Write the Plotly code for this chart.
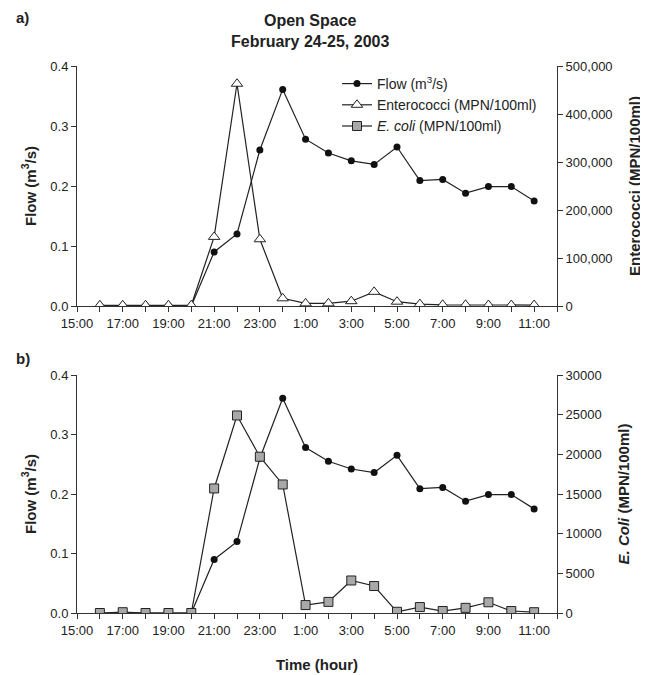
import plotly.graph_objects as go
from plotly.subplots import make_subplots

# ---- data ----
times = ["16:00", "17:00", "18:00", "19:00", "20:00", "21:00", "22:00", "23:00", "0:00", "1:00",
         "2:00", "3:00", "4:00", "5:00", "6:00", "7:00", "8:00", "9:00", "10:00", "11:00"]
flow = [0.0, 0.0, 0.0, 0.0, 0.0, 0.090, 0.120, 0.260, 0.361, 0.278,
        0.255, 0.242, 0.236, 0.265, 0.209, 0.211, 0.188, 0.199, 0.199, 0.175]
enterococci = [1500, 1500, 1500, 1500, 1500, 144000, 463000, 139000, 16000, 5500,
               5500, 10000, 29500, 9000, 4000, 2500, 2500, 2000, 2000, 2000]
ecoli = [0, 100, 0, 0, 0, 15700, 24900, 19700, 16200, 1000,
         1400, 4100, 3400, 150, 750, 250, 650, 1350, 250, 100]
tick_labels = ["15:00", "", "17:00", "", "19:00", "", "21:00", "", "23:00", "", "1:00", "",
               "3:00", "", "5:00", "", "7:00", "", "9:00", "", "11:00", ""]

# hour offsets from 15:00 (axis origin); data start at 16:00
xpos = list(range(1, len(times) + 1))
tickvals = list(range(0, len(tick_labels)))

FONT = "Liberation Sans, Arial, sans-serif"
LINE = "#222222"
AX = "#333333"
TXT = "#222222"

# figure geometry (page body adds an 8px offset)
W, H = 640, 667
L, R, T, B = 69, 91, 58, 62
PW, PH = W - L - R, H - T - B


def px(xf):
    return (xf - L) / PW


def py(yf):
    return (H - B - yf) / PH


fig = make_subplots(rows=2, cols=1, specs=[[{"secondary_y": True}], [{"secondary_y": True}]],
                    vertical_spacing=0.12)

flow_style = dict(mode="lines+markers", line=dict(color=LINE, width=1.2),
                  marker=dict(symbol="circle", size=7, color="#111111"))
ent_style = dict(mode="lines+markers", line=dict(color=LINE, width=1.2),
                 marker=dict(symbol="triangle-up", size=10, color="white",
                             line=dict(color=LINE, width=1)))
eco_style = dict(mode="lines+markers", line=dict(color=LINE, width=1.2),
                 marker=dict(symbol="square", size=9, color="#A8A8A8",
                             line=dict(color=LINE, width=1)))

fig.add_trace(go.Scatter(x=xpos, y=flow, name="Flow (m<sup>3</sup>/s)", customdata=times,
                         legendrank=1, **flow_style), row=1, col=1, secondary_y=False)
fig.add_trace(go.Scatter(x=xpos, y=enterococci, name="Enterococci (MPN/100ml)", customdata=times,
                         legendrank=2, **ent_style), row=1, col=1, secondary_y=True)
fig.add_trace(go.Scatter(x=xpos, y=flow, name="Flow", showlegend=False, customdata=times,
                         **flow_style), row=2, col=1, secondary_y=False)
fig.add_trace(go.Scatter(x=xpos, y=ecoli, name="<i>E. coli</i> (MPN/100ml)", customdata=times,
                         legendrank=3, **eco_style), row=2, col=1, secondary_y=True)

tickfont = dict(family=FONT, size=13, color=TXT)
titlefont = dict(family=FONT, size=15, color=TXT)

xcommon = dict(range=[0, 21], domain=[0, 1], tickmode="array", tickvals=tickvals,
               ticktext=tick_labels, ticks="outside", ticklen=5, tickcolor=AX, showline=True,
               linecolor=AX, linewidth=1, showgrid=False, zeroline=False, tickfont=tickfont,
               automargin=False)
fig.update_xaxes(**xcommon, row=1, col=1)
fig.update_xaxes(**xcommon, row=2, col=1,
                 title=dict(text="<b>Time (hour)</b>", font=titlefont, standoff=22))

ycommon = dict(range=[0, 0.4], dtick=0.1, tickformat=".1f", ticks="outside", ticklen=5,
               tickcolor=AX, showline=True, linecolor=AX, linewidth=1, showgrid=False,
               zeroline=False, tickfont=tickfont, automargin=False)
fig.update_yaxes(**ycommon, row=1, col=1, secondary_y=False,
                 title=dict(text="<b>Flow (m<sup>3</sup>/s)</b>", font=titlefont, standoff=10))
fig.update_yaxes(**ycommon, row=2, col=1, secondary_y=False,
                 title=dict(text="<b>Flow (m<sup>3</sup>/s)</b>", font=titlefont, standoff=10))

ycommon2 = dict(ticks="outside", ticklen=5, tickcolor=AX, showline=True, linecolor=AX,
                linewidth=1, showgrid=False, zeroline=False, tickfont=tickfont, automargin=False)
fig.update_yaxes(**ycommon2, row=1, col=1, secondary_y=True, range=[0, 500000], dtick=100000,
                 tickformat=",d",
                 title=dict(text="<b>Enterococci (MPN/100ml)</b>", font=titlefont, standoff=17))
fig.update_yaxes(**ycommon2, row=2, col=1, secondary_y=True, range=[0, 30000], dtick=5000,
                 tickformat="d",
                 title=dict(text="<b><i>E. Coli</i> (MPN/100ml)</b>", font=titlefont, standoff=17))

# domains
top_dom = [py(298), 1.0]
bot_dom = [0.0, py(367)]
fig.update_layout(
    yaxis=dict(domain=top_dom), yaxis2=dict(domain=top_dom),
    yaxis3=dict(domain=bot_dom), yaxis4=dict(domain=bot_dom),
)

ann_font = dict(family=FONT, size=16, color=TXT)
fig.add_annotation(text="<b>Open Space</b>", xref="paper", yref="paper",
                   x=px(302), y=py(12.7), showarrow=False, font=ann_font,
                   xanchor="center", yanchor="middle")
fig.add_annotation(text="<b>February 24-25, 2003</b>", xref="paper", yref="paper",
                   x=px(302), y=py(33.7), showarrow=False, font=ann_font,
                   xanchor="center", yanchor="middle")
fig.add_annotation(text="<b>a)</b>", xref="paper", yref="paper",
                   x=px(14), y=py(9), showarrow=False,
                   font=dict(family=FONT, size=15, color=TXT), xanchor="center", yanchor="middle")
fig.add_annotation(text="<b>b)</b>", xref="paper", yref="paper",
                   x=px(15), y=py(350), showarrow=False,
                   font=dict(family=FONT, size=15, color=TXT), xanchor="center", yanchor="middle")

fig.update_layout(
    width=W, height=H,
    margin=dict(l=L, r=R, t=T, b=B, autoexpand=False),
    paper_bgcolor="white", plot_bgcolor="white",
    font=dict(family=FONT, size=13, color=TXT),
    legend=dict(x=px(329), y=py(60), xanchor="left", yanchor="top",
                bgcolor="rgba(0,0,0,0)", font=dict(family=FONT, size=14, color=TXT),
                tracegroupgap=0, itemwidth=30),
    showlegend=True,
)

fig.write_html("out.html")
